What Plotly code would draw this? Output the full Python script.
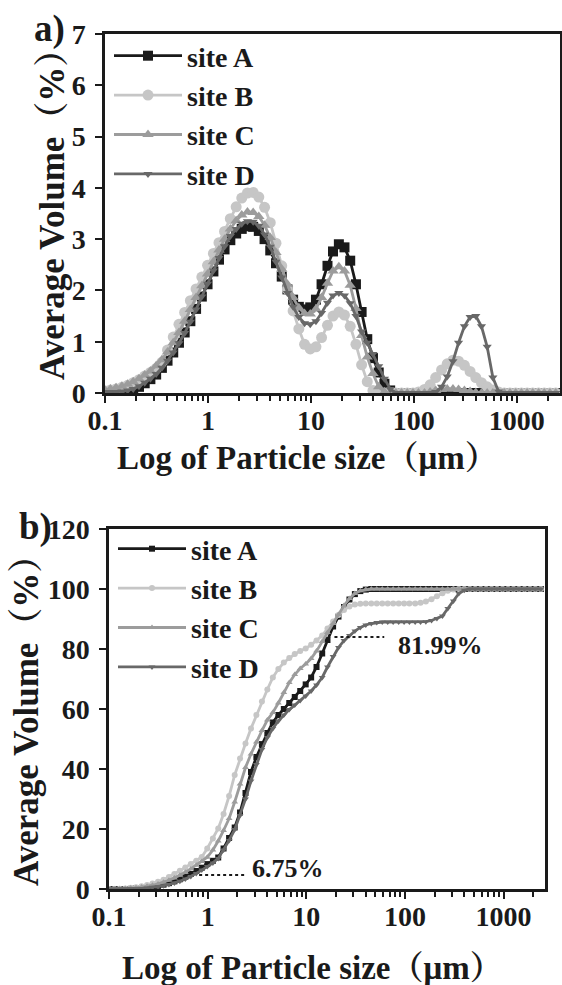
import math
import plotly.graph_objects as go

# ---------------- data ----------------
size_um = [0.0995, 0.113, 0.128, 0.146, 0.166, 0.188, 0.214, 0.243, 0.276, 0.314,
           0.357, 0.405, 0.46, 0.523, 0.594, 0.675, 0.767, 0.872, 0.991, 1.13,
           1.28, 1.45, 1.65, 1.88, 2.13, 2.42, 2.75, 3.12, 3.55, 4.03,
           4.58, 5.21, 5.92, 6.72, 7.64, 8.68, 9.86, 11.2, 12.7, 14.5,
           16.4, 18.7, 21.2, 24.1, 27.4, 31.1, 35.3, 40.1, 45.6, 51.8,
           58.9, 66.9, 76, 86.4, 98.1, 111, 127, 144, 163, 186,
           211, 240, 272, 310, 352, 400, 454, 516, 586, 666,
           756, 859, 976, 1110, 1260, 1430, 1630, 1850, 2100, 2390]

sites = ["site A", "site B", "site C", "site D"]

# a) volume density (%)
dens_A = [0, 0, 0, 0, 0.02, 0.06, 0.12, 0.19, 0.27, 0.36,
          0.49, 0.63, 0.79, 0.98, 1.18, 1.40, 1.64, 1.88, 2.12, 2.37,
          2.60, 2.80, 2.98, 3.11, 3.20, 3.25, 3.24, 3.16, 3.00, 2.78,
          2.53, 2.27, 2.02, 1.82, 1.68, 1.63, 1.67, 1.82, 2.12, 2.48,
          2.76, 2.90, 2.84, 2.58, 2.12, 1.58, 1.05, 0.68, 0.40, 0.18,
          0.05, 0, 0, 0, 0, 0, 0, 0, 0, 0,
          0, 0, 0, 0, 0, 0, 0, 0, 0, 0,
          0, 0, 0, 0, 0, 0, 0, 0, 0, 0]
dens_B = [0.04, 0.06, 0.08, 0.11, 0.15, 0.20, 0.26, 0.33, 0.40, 0.48,
          0.60, 0.84, 1.09, 1.34, 1.57, 1.80, 2.03, 2.26, 2.49, 2.72,
          2.93, 3.15, 3.40, 3.63, 3.80, 3.90, 3.91, 3.82, 3.62, 3.32,
          2.92, 2.48, 2.02, 1.60, 1.25, 0.95, 0.86, 0.90, 1.08, 1.32,
          1.50, 1.58, 1.52, 1.30, 0.95, 0.55, 0.22, 0.05, 0, 0,
          0, 0, 0, 0, 0, 0.02, 0.07, 0.16, 0.30, 0.45,
          0.57, 0.64, 0.62, 0.54, 0.42, 0.30, 0.20, 0.12, 0.06, 0.02,
          0, 0, 0, 0, 0, 0, 0, 0, 0, 0]
dens_C = [0.06, 0.08, 0.10, 0.13, 0.17, 0.22, 0.28, 0.35, 0.43, 0.53,
          0.65, 0.80, 0.98, 1.18, 1.40, 1.63, 1.86, 2.09, 2.32, 2.56,
          2.79, 3.00, 3.20, 3.36, 3.47, 3.53, 3.52, 3.44, 3.27, 3.03,
          2.74, 2.42, 2.12, 1.86, 1.66, 1.55, 1.54, 1.64, 1.86, 2.14,
          2.38, 2.46, 2.38, 2.10, 1.65, 1.12, 0.70, 0.38, 0.12, 0.02,
          0, 0, 0, 0, 0, 0, 0, 0.02, 0.05, 0.07,
          0.08, 0.08, 0.07, 0.05, 0.03, 0.01, 0, 0, 0, 0,
          0, 0, 0, 0, 0, 0, 0, 0, 0, 0]
dens_D = [0.02, 0.02, 0.02, 0.03, 0.05, 0.08, 0.13, 0.20, 0.28, 0.37,
          0.49, 0.63, 0.79, 0.97, 1.17, 1.39, 1.63, 1.88, 2.13, 2.39,
          2.63, 2.86, 3.06, 3.20, 3.30, 3.35, 3.34, 3.26, 3.09, 2.85,
          2.56, 2.25, 1.95, 1.68, 1.48, 1.36, 1.34, 1.40, 1.56, 1.76,
          1.90, 1.95, 1.90, 1.75, 1.50, 1.20, 0.98, 0.76, 0.52, 0.28,
          0.08, 0, 0, 0, 0, 0, 0, 0, 0.02, 0.12,
          0.32, 0.62, 0.98, 1.30, 1.48, 1.50, 1.30, 0.90, 0.30, 0.03,
          0, 0, 0, 0, 0, 0, 0, 0, 0, 0]

# b) cumulative volume (%)
cum_A = [0, 0, 0, 0, 0.05, 0.15, 0.3, 0.5, 0.75, 1.05,
         1.45, 1.95, 2.55, 3.25, 4.1, 5.0, 6.0, 7.1, 8.3, 9.4,
         10.5, 13.5, 17.0, 20.5, 25.5, 32.0, 39.0, 44.0, 48.3, 52.0,
         55.5, 58.0, 60.0, 62.0, 64.0, 66.0, 68.2, 70.5, 74.0, 78.5,
         83.0, 87.5, 90.8, 94.0, 96.5, 98.3, 99.3, 99.8, 100, 100,
         100, 100, 100, 100, 100, 100, 100, 100, 100, 100,
         100, 100, 100, 100, 100, 100, 100, 100, 100, 100,
         100, 100, 100, 100, 100, 100, 100, 100, 100, 100]
cum_B = [0, 0, 0.1, 0.2, 0.4, 0.6, 0.9, 1.3, 1.8, 2.4,
         3.1, 4.0, 5.0, 6.1, 7.2, 8.3, 9.4, 10.7, 13.5, 16.8,
         20.2, 25.0, 31.0, 38.0, 43.5, 48.5, 53.5, 58.0, 62.5, 66.5,
         70.5, 73.3, 75.5, 77.0, 78.3, 79.3, 80.2, 81.4, 82.8, 84.5,
         86.8, 89.2, 91.3, 93.0, 94.2, 94.8, 95.1, 95.2, 95.2, 95.2,
         95.2, 95.2, 95.2, 95.2, 95.2, 95.2, 95.2, 95.4, 95.8, 96.6,
         97.6, 98.6, 99.4, 99.8, 100, 100, 100, 100, 100, 100,
         100, 100, 100, 100, 100, 100, 100, 100, 100, 100]
cum_C = [0, 0.05, 0.1, 0.2, 0.3, 0.45, 0.65, 0.9, 1.25, 1.7,
         2.25, 2.9, 3.7, 4.6, 5.6, 6.7, 7.9, 9.2, 10.6, 13.0,
         16.0, 19.5, 23.5, 29.0, 35.0, 40.5, 45.0, 49.0, 52.8, 56.3,
         58.8, 62.0, 65.5, 68.8, 71.5, 73.5, 75.0, 76.8, 79.3, 82.5,
         85.5, 88.5, 91.5, 94.5, 96.8, 98.5, 99.4, 99.8, 100, 100,
         100, 100, 100, 100, 100, 100, 100, 100, 100, 100,
         100, 100, 100, 100, 100, 100, 100, 100, 100, 100,
         100, 100, 100, 100, 100, 100, 100, 100, 100, 100]
cum_D = [0, 0, 0, 0, 0.05, 0.1, 0.2, 0.35, 0.55, 0.8,
         1.1, 1.5, 2.0, 2.6, 3.3, 4.2, 5.2, 6.3, 7.5, 8.7,
         10.2, 13.0, 16.2, 19.8, 24.5, 30.0, 36.0, 41.5, 46.5, 50.5,
         53.5, 56.0, 58.0, 59.8, 61.3, 62.8, 64.3, 66.0, 68.0, 70.5,
         74.0, 77.5, 80.5, 82.8, 84.5, 86.0, 87.2, 88.0, 88.5, 88.8,
         89.0, 89.0, 89.0, 89.0, 89.0, 89.0, 89.0, 89.0, 89.1, 89.5,
         90.2, 91.0, 93.5, 96.0, 98.5, 99.6, 100, 100, 100, 100,
         100, 100, 100, 100, 100, 100, 100, 100, 100, 100]

tick_vals = [0.1, 1, 10, 100, 1000]
tick_text = ["0.1", "1", "10", "100", "1000"]
minor_vals = [0.2, 0.3, 0.4, 0.5, 0.6, 0.7, 0.8, 0.9,
              2, 3, 4, 5, 6, 7, 8, 9,
              20, 30, 40, 50, 60, 70, 80, 90,
              200, 300, 400, 500, 600, 700, 800, 900,
              2000]

# guide marks in panel b
guide_low_x = [0.82, 2.51]
guide_low_y = [4.7, 4.7]
guide_low_label = "6.75%"
guide_high_x = [19.3, 61.7]
guide_high_y = [84.0, 84.0]
guide_high_label = "81.99%"

# ---------------- styling ----------------
FONT = "Liberation Serif, Noto Serif CJK SC, Noto Sans CJK SC, serif"
INK = "#1a1a1a"
colors = ["#1a1a1a", "#c6c6c6", "#9c9c9c", "#686868"]
symbols = ["square", "circle", "triangle-up", "triangle-down"]
top_sizes = [10, 11, 10, 8]
bot_sizes = [6, 6, 6, 6]

W, H = 562, 985
def px_x(v):
    return v / W
def px_y(v):
    return (H - v) / H

fig = go.Figure()

top_series = [dens_A, dens_B, dens_C, dens_D]
bot_series = [cum_A, cum_B, cum_C, cum_D]

for name, ys, c, s, ms in zip(sites, top_series, colors, symbols, top_sizes):
    fig.add_trace(go.Scatter(
        x=size_um, y=ys, name=name, mode="lines+markers",
        line=dict(color=c, width=2.8),
        marker=dict(symbol=s, size=ms, color=c),
        xaxis="x", yaxis="y", legend="legend"))

for name, ys, c, s, ms in zip(sites, bot_series, colors, symbols, bot_sizes):
    fig.add_trace(go.Scatter(
        x=size_um, y=ys, name=name, mode="lines+markers",
        line=dict(color=c, width=2.8),
        marker=dict(symbol=s, size=ms, color=c),
        xaxis="x2", yaxis="y2", legend="legend2"))

for gx, gy in [(guide_low_x, guide_low_y), (guide_high_x, guide_high_y)]:
    fig.add_trace(go.Scatter(
        x=gx, y=gy, mode="lines", showlegend=False, hoverinfo="skip",
        line=dict(color=INK, width=2, dash="dot"),
        xaxis="x2", yaxis="y2"))

tickfont = dict(family=FONT, size=28, color=INK, weight="bold")

def xaxis_style(domain, anchor):
    return dict(
        domain=domain, anchor=anchor, type="log", range=[-1, 3.42],
        automargin=False,
        tickmode="array", tickvals=tick_vals, ticktext=tick_text,
        ticks="outside", ticklen=7, tickwidth=2, tickcolor=INK,
        showline=True, linewidth=2.5, linecolor=INK, mirror=True,
        showgrid=False, zeroline=False, tickfont=tickfont,
        ticklabelstandoff=-6,
        minor=dict(tickmode="array", tickvals=minor_vals, ticks="outside",
                   ticklen=5, tickwidth=1.5, tickcolor=INK, showgrid=False),
    )

def yaxis_style(domain, anchor, rng, dtick):
    return dict(
        domain=domain, anchor=anchor, range=rng, dtick=dtick, tick0=0,
        automargin=False,
        ticks="outside", ticklen=7, tickwidth=2, tickcolor=INK,
        showline=True, linewidth=2.5, linecolor=INK, mirror=True,
        showgrid=False, zeroline=False, tickfont=tickfont,
        ticklabelstandoff=4,
    )

legend_common = dict(
    bgcolor="rgba(0,0,0,0)", borderwidth=0,
    font=dict(family=FONT, size=28, color=INK, weight="bold"),
    itemwidth=68, tracegroupgap=0, xanchor="left", yanchor="top",
    itemclick=False, itemdoubleclick=False,
)

fig.update_layout(
    template="none",
    width=W, height=H, autosize=False,
    margin=dict(l=0, r=0, t=0, b=0, pad=0),
    paper_bgcolor="white", plot_bgcolor="white",
    xaxis=xaxis_style([px_x(105), px_x(560)], "y"),
    yaxis=yaxis_style([px_y(393), px_y(34)], "x", [0, 7], 1),
    xaxis2=xaxis_style([px_x(109), px_x(545)], "y2"),
    yaxis2=yaxis_style([px_y(889), px_y(529)], "x2", [0, 120], 20),
    legend=dict(x=px_x(109), y=px_y(31), **legend_common),
    legend2=dict(x=px_x(113), y=px_y(524), **legend_common),
)

xtitle_font = dict(family=FONT, size=33, color=INK, weight="bold")
ytitle_font = dict(family=FONT, size=35, color=INK, weight="bold")
label_font = dict(family=FONT, size=37, color=INK, weight="bold")
ann_font = dict(family=FONT, size=26, color=INK, weight="bold")

anns = [
    dict(text="Log of Particle size（μm）", x=px_x(307), y=px_y(458),
         xref="paper", yref="paper", showarrow=False, font=xtitle_font,
         xanchor="center", yanchor="middle"),
    dict(text="Log of Particle size（μm）", x=px_x(312), y=px_y(968),
         xref="paper", yref="paper", showarrow=False, font=xtitle_font,
         xanchor="center", yanchor="middle"),
    dict(text="Average Volume（%）", x=px_x(52), y=px_y(206),
         xref="paper", yref="paper", showarrow=False, font=ytitle_font,
         textangle=-90, xanchor="center", yanchor="middle"),
    dict(text="Average Volume（%）", x=px_x(26), y=px_y(712),
         xref="paper", yref="paper", showarrow=False, font=ytitle_font,
         textangle=-90, xanchor="center", yanchor="middle"),
    dict(text="a)", x=px_x(32), y=px_y(29), xref="paper", yref="paper",
         showarrow=False, font=label_font, xanchor="left", yanchor="middle"),
    dict(text="b)", x=px_x(17), y=px_y(527), xref="paper", yref="paper",
         showarrow=False, font=label_font, xanchor="left", yanchor="middle"),
    dict(text=guide_low_label, x=math.log10(guide_low_x[1]) + 0.03, y=guide_low_y[0] + 2.3,
         xref="x2", yref="y2", showarrow=False, font=ann_font,
         xanchor="left", yanchor="middle"),
    dict(text=guide_high_label, x=math.log10(guide_high_x[1]) + 0.12, y=guide_high_y[0] - 2.8,
         xref="x2", yref="y2", showarrow=False, font=ann_font,
         xanchor="left", yanchor="middle"),
]
fig.update_layout(annotations=anns)

fig.write_html("out.html")
